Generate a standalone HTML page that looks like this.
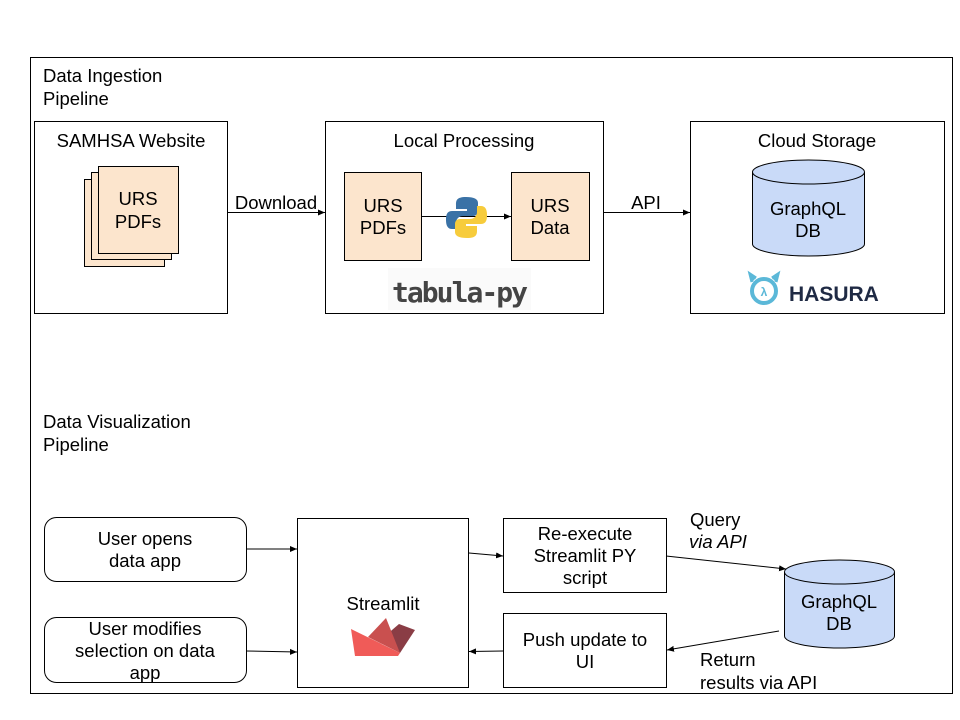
<!DOCTYPE html>
<html><head><style>body{margin:0;background:#fff}svg{display:block}text{font-family:"Liberation Sans",sans-serif;fill:#000}</style></head><body>
<svg width="960" height="720" viewBox="0 0 960 720" xmlns="http://www.w3.org/2000/svg">
<defs><marker id="a" markerWidth="8" markerHeight="8" refX="7" refY="4" orient="auto" markerUnits="userSpaceOnUse"><path d="M0,1 L7,4 L0,7 Z" fill="#000"/></marker></defs>
<rect x="30.5" y="57.5" width="922" height="636" fill="#fff" stroke="#000"/>
<g font-size="18.5">
<text x="43" y="82">Data Ingestion</text>
<text x="43" y="105">Pipeline</text>
<text x="43" y="428">Data Visualization</text>
<text x="43" y="451">Pipeline</text>
</g>
<!-- SAMHSA -->
<rect x="34.5" y="121.5" width="193" height="192" fill="#fff" stroke="#000"/>
<text x="131" y="147" font-size="18.5" text-anchor="middle">SAMHSA Website</text>
<rect x="84.5" y="179.5" width="80" height="87" fill="#fce5cd" stroke="#000"/>
<rect x="91.5" y="172.5" width="80" height="87" fill="#fce5cd" stroke="#000"/>
<rect x="98.5" y="166.5" width="80" height="87" fill="#fce5cd" stroke="#000"/>
<text x="138" y="205" font-size="18.5" text-anchor="middle">URS</text>
<text x="138" y="228" font-size="18.5" text-anchor="middle">PDFs</text>
<!-- Local -->
<rect x="325.5" y="121.5" width="278" height="192" fill="#fff" stroke="#000"/>
<text x="464" y="147" font-size="18.5" text-anchor="middle">Local Processing</text>
<rect x="344.5" y="172.5" width="77" height="88" fill="#fce5cd" stroke="#000"/>
<text x="383" y="212" font-size="18.5" text-anchor="middle">URS</text>
<text x="383" y="234" font-size="18.5" text-anchor="middle">PDFs</text>
<rect x="511.5" y="172.5" width="78" height="88" fill="#fce5cd" stroke="#000"/>
<text x="550" y="212" font-size="18.5" text-anchor="middle">URS</text>
<text x="550" y="234" font-size="18.5" text-anchor="middle">Data</text>
<line x1="421" y1="216.5" x2="511" y2="216.5" stroke="#000" marker-end="url(#a)"/>
<path d="M466,197 c-10,0 -10,4 -10,8 v4 h11 v2 h-15 c-6,0 -6,6 -6,9 c0,6 2,9 6,9 h4 v-6 c0,-4 3,-7 7,-7 h10 c3,0 5,-2 5,-5 v-8 c0,-4 -4,-6 -12,-6z" fill="#3a72a6"/>
<path d="M467,238 c10,0 10,-4 10,-8 v-4 h-11 v-2 h15 c6,0 6,-6 6,-9 c0,-6 -2,-9 -6,-9 h-4 v6 c0,4 -3,7 -7,7 h-10 c-3,0 -5,2 -5,5 v8 c0,4 4,6 12,6z" fill="#f7cc3c"/>
<rect x="388" y="268" width="143" height="42" fill="#fafafa"/>
<text x="460" y="302" font-size="28" font-weight="bold" text-anchor="middle" style="fill:#444;font-family:'DejaVu Sans Mono','Liberation Mono',monospace" textLength="136">tabula-py</text>
<!-- Cloud -->
<rect x="690.5" y="121.5" width="254" height="192" fill="#fff" stroke="#000"/>
<text x="817" y="147" font-size="18.5" text-anchor="middle">Cloud Storage</text>
<path d="M752.5,172 v72 a56,12 0 0 0 112,0 v-72" fill="#c9daf8" stroke="#000"/>
<ellipse cx="808.5" cy="172" rx="56" ry="12" fill="#c9daf8" stroke="#000"/>
<text x="808" y="215" font-size="18.5" text-anchor="middle">GraphQL</text>
<text x="808" y="237" font-size="18.5" text-anchor="middle">DB</text>
<circle cx="764" cy="291" r="12" fill="none" stroke="#5bb8d8" stroke-width="4"/>
<path d="M752,282 l-2,-8 l6,4 M776,282 l2,-8 l-6,4" stroke="#5bb8d8" stroke-width="3" fill="#5bb8d8"/>
<text x="764" y="296" font-size="12" font-weight="bold" text-anchor="middle" style="fill:#5bb8d8">λ</text>
<text x="789" y="301" font-size="21" font-weight="bold" style="fill:#1f2a44">HASURA</text>
<!-- arrows top -->
<line x1="227" y1="212.5" x2="325" y2="212.5" stroke="#000" marker-end="url(#a)"/>
<text x="276" y="209" font-size="18.5" text-anchor="middle">Download</text>
<line x1="603" y1="212.5" x2="690" y2="212.5" stroke="#000" marker-end="url(#a)"/>
<text x="646" y="209" font-size="18.5" text-anchor="middle">API</text>
<!-- bottom -->
<rect x="44.5" y="517.5" width="202" height="64" rx="12" fill="#fff" stroke="#000"/>
<text x="145" y="545" font-size="18.5" text-anchor="middle">User opens</text>
<text x="145" y="567" font-size="18.5" text-anchor="middle">data app</text>
<rect x="44.5" y="617.5" width="202" height="65" rx="12" fill="#fff" stroke="#000"/>
<text x="145" y="635" font-size="18.5" text-anchor="middle">User modifies</text>
<text x="145" y="657" font-size="18.5" text-anchor="middle">selection on data</text>
<text x="145" y="679" font-size="18.5" text-anchor="middle">app</text>
<rect x="297.5" y="518.5" width="171" height="169" fill="#fff" stroke="#000"/>
<text x="383" y="610" font-size="18.5" text-anchor="middle">Streamlit</text>
<path d="M351,629 l49,24 l-2,3 l-43,0 z" fill="#f05b58"/>
<path d="M385,636 l14,-12 l16,6 l-15,23 z" fill="#8a3d45"/>
<path d="M368,637 l18,-19 l14,35 z" fill="#c9504f"/>
<rect x="503.5" y="518.5" width="163" height="74" fill="#fff" stroke="#000"/>
<text x="585" y="540" font-size="18.5" text-anchor="middle">Re-execute</text>
<text x="585" y="562" font-size="18.5" text-anchor="middle">Streamlit PY</text>
<text x="585" y="584" font-size="18.5" text-anchor="middle">script</text>
<rect x="503.5" y="613.5" width="163" height="74" fill="#fff" stroke="#000"/>
<text x="585" y="646" font-size="18.5" text-anchor="middle">Push update to</text>
<text x="585" y="668" font-size="18.5" text-anchor="middle">UI</text>
<path d="M784.5,572 v64 a55,12 0 0 0 110,0 v-64" fill="#c9daf8" stroke="#000"/>
<ellipse cx="839.5" cy="572" rx="55" ry="12" fill="#c9daf8" stroke="#000"/>
<text x="839" y="608" font-size="18.5" text-anchor="middle">GraphQL</text>
<text x="839" y="630" font-size="18.5" text-anchor="middle">DB</text>
<line x1="246" y1="549" x2="297" y2="549" stroke="#000" marker-end="url(#a)"/>
<line x1="246" y1="651" x2="297" y2="652" stroke="#000" marker-end="url(#a)"/>
<line x1="469" y1="553" x2="503" y2="556" stroke="#000" marker-end="url(#a)"/>
<line x1="503" y1="651" x2="469" y2="651.5" stroke="#000" marker-end="url(#a)"/>
<line x1="666" y1="556" x2="786" y2="569" stroke="#000" marker-end="url(#a)"/>
<line x1="779" y1="631" x2="667" y2="650" stroke="#000" marker-end="url(#a)"/>
<text x="690" y="526" font-size="18.5">Query</text>
<text x="689" y="548" font-size="18.5" font-style="italic">via API</text>
<text x="700" y="666" font-size="18.5">Return</text>
<text x="700" y="689" font-size="18.5">results via API</text>
</svg>
</body></html>
